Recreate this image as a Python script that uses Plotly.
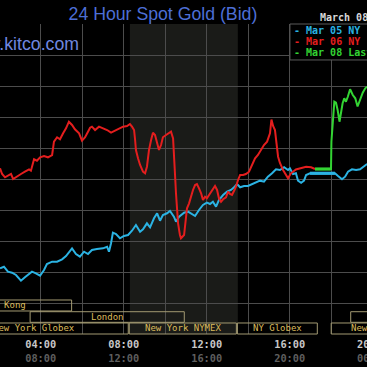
import plotly.graph_objects as go

# ---------------- data (hours ET, price USD) ----------------
blue_h = [2.04,2.23,2.42,2.62,2.81,3.05,3.24,3.44,3.58,3.77,3.97,4.16,4.30,4.55,4.79,5.03,5.22,5.51,5.70,5.89,
          6.09,6.28,6.47,6.71,7.00,7.20,7.29,7.39,7.48,7.63,7.82,8.01,8.21,8.40,8.59,8.79,8.93,9.12,9.27,9.46,
          9.61,9.75,9.89,10.09,10.23,10.42,10.52,10.67,10.91,11.10,11.24,11.44,11.63,11.82,12.01,12.16,12.30,12.45,12.59,12.79,
          12.98,13.17,13.32,13.46,13.61,13.80,13.99,14.18,14.38,14.57,14.76,14.95,15.15,15.34,15.53,15.73,15.92,16.01,16.16,16.30,
          16.40,16.55,16.69,16.79,16.98,18.18,18.33,18.52,18.67,18.81,19.00,19.20,19.39,19.58,19.73]
blue_p = [1680.60,1680.85,1680.05,1679.89,1679.52,1678.60,1679.15,1679.68,1680.05,1679.79,1679.40,1680.32,1681.29,1681.66,1681.66,1682.05,1682.58,1683.82,1682.90,1682.47,
          1683.27,1682.90,1683.55,1683.71,1683.82,1684.08,1683.27,1684.63,1686.34,1686.13,1685.44,1685.81,1685.97,1686.66,1687.58,1686.50,1686.89,1687.85,1687.21,1688.66,
          1689.47,1688.27,1689.19,1689.47,1689.84,1688.92,1688.11,1688.92,1689.56,1689.73,1689.47,1689.03,1690.00,1690.81,1691.18,1690.97,1691.34,1690.53,1691.61,1692.42,
          1692.95,1693.23,1693.66,1694.19,1693.66,1693.87,1693.87,1694.19,1694.40,1694.73,1694.56,1695.37,1695.92,1696.56,1696.45,1696.89,1696.45,1696.73,1695.81,1695.92,
          1694.73,1694.40,1694.73,1695.65,1695.92,1695.92,1695.48,1694.95,1695.37,1696.18,1696.56,1696.45,1696.56,1697.10,1697.42]

red_h = [2.04,2.14,2.28,2.42,2.57,2.67,2.86,3.05,3.24,3.44,
         3.53,3.68,3.82,3.97,4.16,4.35,4.55,4.64,4.79,4.93,
         5.08,5.22,5.36,5.51,5.65,5.85,5.99,6.14,6.28,6.38,
         6.47,6.62,6.81,7.00,7.20,7.39,7.58,7.77,7.97,8.16,
         8.30,8.40,8.50,8.55,8.59,8.69,8.79,8.93,9.03,9.12,
         9.22,9.32,9.41,9.51,9.61,9.70,9.80,9.89,10.04,10.18,
         10.28,10.38,10.42,10.47,10.52,10.57,10.62,10.71,10.76,10.91,
         10.95,11.00,11.05,11.15,11.24,11.34,11.44,11.53,11.63,11.73,
         11.82,11.92,12.01,12.11,12.26,12.40,12.50,12.59,12.69,12.79,
         12.93,13.03,13.12,13.22,13.32,13.41,13.51,13.61,13.75,13.89,
         14.04,14.18,14.33,14.47,14.62,14.76,14.91,15.05,15.12,15.20,
         15.29,15.39,15.44,15.53,15.68,15.92,16.06,16.30,16.55,16.79,
         17.03,17.22]
red_p = [1696.73,1695.81,1695.27,1695.48,1695.81,1695.00,1695.48,1695.81,1696.18,1696.56,
         1696.34,1698.18,1697.95,1698.50,1698.71,1698.50,1698.87,1701.02,1701.73,1701.40,
         1702.37,1703.18,1704.24,1703.71,1703.02,1702.37,1701.18,1701.73,1702.63,1703.27,
         1703.44,1702.90,1703.44,1703.18,1702.90,1702.47,1702.79,1703.02,1703.44,1703.55,
         1703.87,1703.44,1702.90,1701.29,1699.68,1698.34,1697.26,1696.18,1695.92,1696.98,
         1699.68,1701.29,1702.47,1702.10,1700.76,1699.68,1700.48,1701.73,1702.10,1702.37,
         1702.63,1701.56,1699.68,1695.92,1692.69,1689.47,1687.85,1685.97,1685.44,1685.97,
         1687.31,1689.47,1690.27,1691.08,1692.15,1693.23,1694.03,1694.19,1693.50,1692.69,
         1691.61,1692.15,1691.89,1692.42,1693.34,1693.87,1693.23,1691.89,1691.34,1691.73,
         1692.05,1692.95,1692.58,1692.42,1693.11,1693.76,1694.84,1695.65,1695.65,1695.81,
         1696.18,1697.10,1698.34,1698.87,1699.68,1700.48,1701.02,1702.37,1704.60,1703.55,
         1702.90,1700.48,1698.60,1697.58,1696.45,1695.11,1695.92,1696.53,1696.73,1696.98,
         1696.89,1696.61]

green_h = [17.22,17.99,18.01,18.09,18.15,18.23,18.31,18.40,18.47,18.55,18.63,18.71,18.80,18.91,19.04,19.16,19.27,19.39,19.52,19.64,19.73]
green_p = [1696.61,1696.61,1701.02,1704.52,1707.47,1707.31,1706.13,1704.24,1705.60,1707.21,1708.02,1707.47,1708.27,1709.47,1708.55,1708.02,1706.69,1707.74,1708.92,1709.63,1709.89]

series_names = ["Mar 05 NY", "Mar 06 NY", "Mar 08 Last"]

tick_hours = [4, 6, 8, 10, 12, 14, 16, 18]
tick_labels_et = ["04:00", "", "08:00", "", "12:00", "", "16:00", ""]
tick_labels_gmt = ["08:00", "", "12:00", "", "16:00", "", "20:00", ""]
extra_tick_hour = 20
extra_tick_et = "20:00"
extra_tick_gmt = "00:00"

session_names = ["Hong Kong", "London", "New York Globex", "New York NYMEX", "NY Globex", "Hong Kong", "New York Globex"]
session_start = [-1.25, 3.49, -0.84, 8.27, 13.48, 18.94, 18.00]
session_end = [5.49, 10.92, 8.22, 13.43, 17.33, 24.50, 23.84]
session_row = [0, 1, 2, 2, 2, 1, 2]

nymex_start, nymex_end = 8.30, 13.50
date_label = "March 08"

# ---------------- style ----------------
X_RANGE = [2.039, 19.725]
Y_RANGE = [1670, 1720]
BLUE, RED, GREEN = "#2bb3e3", "#e41e1e", "#33d433"
GRID = "#4c4c4c"
BOX_LINE = "#a39a72"
BOX_TEXT = "#dcbc5c"
MONO = "DejaVu Sans Mono"
LW = 2.0

row_y = [(0.0742, 0.1097), (0.0377, 0.0719), (0.0, 0.0355)]


def xpaper(h):
    return (h - X_RANGE[0]) / (X_RANGE[1] - X_RANGE[0])


fig = go.Figure()
fig.add_trace(go.Scatter(x=blue_h, y=blue_p, mode="lines", line=dict(color=BLUE, width=LW), showlegend=False))
fig.add_trace(go.Scatter(x=blue_h[84:86], y=blue_p[84:86], mode="lines", line=dict(color=BLUE, width=3.2), showlegend=False))
fig.add_trace(go.Scatter(x=red_h, y=red_p, mode="lines", line=dict(color=RED, width=LW), showlegend=False))
fig.add_trace(go.Scatter(x=green_h, y=green_p, mode="lines", line=dict(color=GREEN, width=LW), showlegend=False))
fig.add_trace(go.Scatter(x=green_h[0:2], y=green_p[0:2], mode="lines", line=dict(color=GREEN, width=3.2), showlegend=False))

shapes = [dict(type="rect", xref="x", yref="paper", x0=nymex_start, x1=nymex_end, y0=0, y1=1,
               fillcolor="#1a1b18", line=dict(width=0), layer="below")]
annotations = []
for name, s, e, r in zip(session_names, session_start, session_end, session_row):
    y0, y1 = row_y[r]
    shapes.append(dict(type="rect", xref="x", yref="paper", x0=s, x1=e, y0=y0, y1=y1,
                       line=dict(color=BOX_LINE, width=1), fillcolor="rgba(0,0,0,0)", layer="above"))
    annotations.append(dict(xref="paper", yref="paper", x=xpaper((s + e) / 2), y=(y0 + y1) / 2,
                            text=name, showarrow=False, xanchor="center", yanchor="middle",
                            font=dict(family=MONO, size=9, color=BOX_TEXT)))

# legend box
shapes.append(dict(type="rect", xref="paper", yref="paper", x0=0.790, x1=1.05, y0=0.884, y1=1.0,
                   fillcolor="#000000", line=dict(color="#5a5a5a", width=1), layer="above"))
for i, (nm, col) in enumerate(zip(series_names, [BLUE, RED, GREEN])):
    annotations.append(dict(xref="paper", yref="paper", x=0.7956, y=[0.9784, 0.9429, 0.9087][i],
                            text="<b>- " + nm + "</b>", showarrow=False, xanchor="left", yanchor="middle",
                            font=dict(family=MONO, size=10, color=col)))
annotations.append(dict(xref="paper", yref="paper", x=0.866, y=1.0216, text="<b>" + date_label + "</b>",
                        showarrow=False, xanchor="left", yanchor="middle",
                        font=dict(family=MONO, size=10, color="#d8d8d8")))
annotations.append(dict(xref="paper", yref="paper", x=0.2215, y=0.9355, text="www.kitco.com",
                        showarrow=False, xanchor="right", yanchor="middle",
                        font=dict(family="Liberation Sans", size=17.7, color="#7088e0")))
# cut-off tick at right edge
annotations.append(dict(xref="paper", yref="paper", x=xpaper(extra_tick_hour), y=-0.0323,
                        text="<b>" + extra_tick_et + "</b>", showarrow=False, xanchor="center", yanchor="middle",
                        font=dict(family=MONO, size=10.3, color="#c8c8c8")))
annotations.append(dict(xref="paper", yref="paper", x=xpaper(extra_tick_hour), y=-0.0765,
                        text="<b>" + extra_tick_gmt + "</b>", showarrow=False, xanchor="center", yanchor="middle",
                        font=dict(family=MONO, size=10.3, color="#5e5e5e")))

ticktext = []
for a, b in zip(tick_labels_et, tick_labels_gmt):
    if a:
        ticktext.append("<b>" + a + "</b><br><b><span style='color:#5e5e5e'>" + b + "</span></b>")
    else:
        ticktext.append("")

fig.update_layout(
    width=367, height=367,
    margin=dict(l=0, r=0, t=24, b=33, pad=0),
    paper_bgcolor="#000000", plot_bgcolor="#000000",
    hovermode=False,
    title=dict(text="24 Hour Spot Gold (Bid)", x=0.444, xref="container", y=0.962, yref="container",
               xanchor="center", yanchor="middle",
               font=dict(family="Liberation Sans", size=17.7, color="#4d6fd6")),
    xaxis=dict(range=X_RANGE, tickvals=tick_hours, ticktext=ticktext, showgrid=True, gridcolor=GRID,
               gridwidth=1, zeroline=False, showline=False, ticks="", ticklen=0, ticklabelstandoff=3,
               tickfont=dict(family=MONO, size=10.3, color="#c8c8c8")),
    yaxis=dict(range=Y_RANGE, dtick=5, tick0=1670, showgrid=True, gridcolor=GRID, gridwidth=1,
               zeroline=False, showline=False, showticklabels=False, ticks=""),
    shapes=shapes, annotations=annotations, showlegend=False,
)

fig.write_html("out.html", config={"displayModeBar": False, "staticPlot": True},
               post_script="document.body.style.margin='0';document.body.style.overflow='hidden';")
